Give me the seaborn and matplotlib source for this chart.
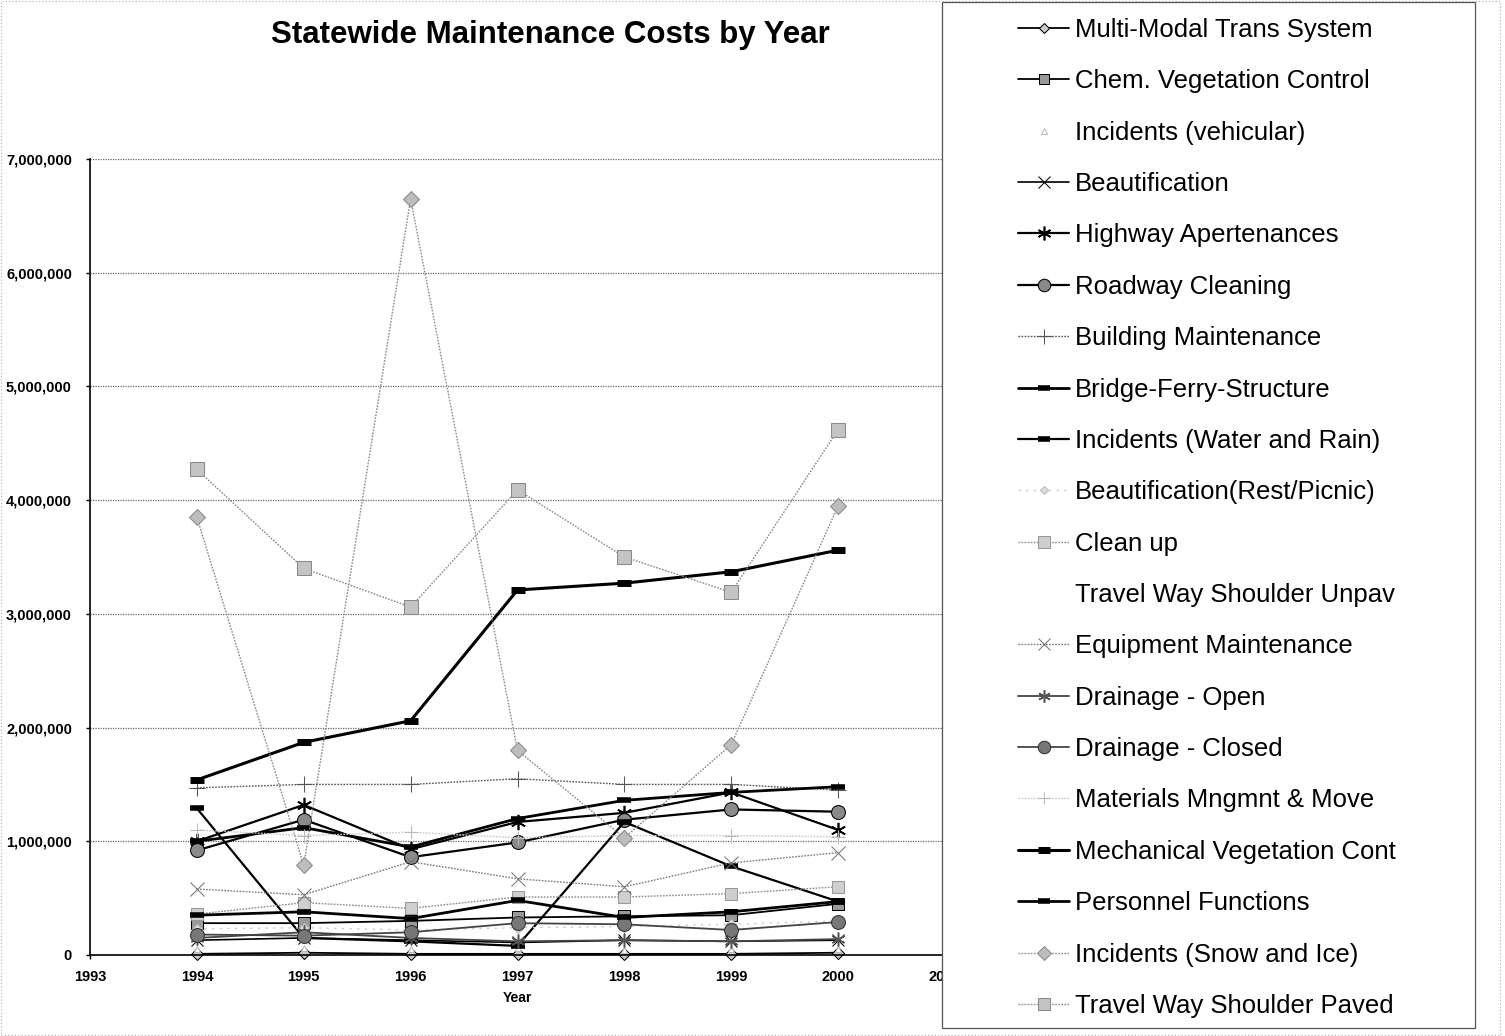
import matplotlib
matplotlib.use("Agg")
import matplotlib.pyplot as plt
from matplotlib.patches import Rectangle
from matplotlib.ticker import FuncFormatter, MultipleLocator
import seaborn as sns

# Years on the x axis
years = [1994, 1995, 1996, 1997, 1998, 1999, 2000]

# Annual statewide maintenance cost per activity (dollars)
multi_modal = [10000, 20000, 10000, 10000, 10000, 10000, 20000]
chem_vegetation = [280000, 280000, 300000, 330000, 340000, 350000, 450000]
incidents_vehicular = [50000, 60000, 50000, 60000, 40000, 50000, 50000]
beautification = [130000, 150000, 130000, 110000, 130000, 120000, 130000]
highway_apertenances = [1000000, 1320000, 930000, 1170000, 1250000, 1430000, 1100000]
roadway_cleaning = [920000, 1190000, 860000, 990000, 1190000, 1280000, 1260000]
building_maintenance = [1470000, 1500000, 1500000, 1550000, 1500000, 1500000, 1450000]
bridge_ferry = [1000000, 1120000, 950000, 1200000, 1360000, 1430000, 1480000]
incidents_water = [1290000, 150000, 120000, 80000, 1170000, 780000, 470000]
beautification_rest = [230000, 240000, 220000, 240000, 250000, 270000, 300000]
clean_up = [360000, 460000, 410000, 510000, 510000, 540000, 600000]
tws_unpaved = [970000, 1030000, 990000, 1000000, 1020000, 1000000, 980000]
equipment_maintenance = [580000, 530000, 820000, 670000, 600000, 810000, 900000]
drainage_open = [150000, 200000, 150000, 120000, 130000, 120000, 140000]
drainage_closed = [180000, 170000, 200000, 280000, 270000, 220000, 290000]
materials = [1100000, 1050000, 1080000, 1030000, 1050000, 1050000, 1040000]
mech_vegetation = [1540000, 1870000, 2060000, 3210000, 3270000, 3370000, 3560000]
personnel = [350000, 380000, 320000, 480000, 330000, 380000, 470000]
snow_ice = [3850000, 790000, 6650000, 1800000, 1030000, 1850000, 3950000]
tws_paved = [4270000, 3400000, 3060000, 4090000, 3500000, 3190000, 4620000]

asterisk = (6, 2, 0)
dotted = (0, (1.2, 1.0))

series = [
    ("Multi-Modal Trans System", multi_modal,
     dict(color="black", lw=1.3, marker="D", ms=6, mfc="#cccccc", mec="black")),
    ("Chem. Vegetation Control", chem_vegetation,
     dict(color="black", lw=1.3, marker="s", ms=8, mfc="#999999", mec="black")),
    ("Incidents (vehicular)", incidents_vehicular,
     dict(color="white", lw=0, marker="^", ms=5, mfc="white", mec="#bbbbbb")),
    ("Beautification", beautification,
     dict(color="black", lw=1.2, marker="x", ms=9, mec="black")),
    ("Highway Apertenances", highway_apertenances,
     dict(color="black", lw=1.6, marker=asterisk, ms=11, mec="black", mew=1.2)),
    ("Roadway Cleaning", roadway_cleaning,
     dict(color="black", lw=1.6, marker="o", ms=10, mfc="#8a8a8a", mec="black")),
    ("Building Maintenance", building_maintenance,
     dict(color="#555555", lw=1.0, ls=dotted, marker="+", ms=12, mec="#555555")),
    ("Bridge-Ferry-Structure", bridge_ferry,
     dict(color="black", lw=2.0, marker="_", ms=10, mew=4, mec="black")),
    ("Incidents (Water and Rain)", incidents_water,
     dict(color="black", lw=1.6, marker="_", ms=10, mew=4, mec="black")),
    ("Beautification(Rest/Picnic)", beautification_rest,
     dict(color="#c8c8c8", lw=1.0, ls=(0, (1.5, 4)), marker="D", ms=5, mfc="#dddddd", mec="#bbbbbb")),
    ("Clean up", clean_up,
     dict(color="#8a8a8a", lw=1.0, ls=dotted, marker="s", ms=9, mfc="#cfcfcf", mec="#999999")),
    ("Travel Way Shoulder Unpav", tws_unpaved,
     dict(color="white", lw=0.0, alpha=0.0)),
    ("Equipment Maintenance", equipment_maintenance,
     dict(color="#7a7a7a", lw=1.0, ls=dotted, marker="x", ms=10, mec="#777777")),
    ("Drainage - Open", drainage_open,
     dict(color="#444444", lw=1.3, marker=asterisk, ms=10, mec="#555555", mew=1.1)),
    ("Drainage - Closed", drainage_closed,
     dict(color="#444444", lw=1.3, marker="o", ms=10, mfc="#777777", mec="#333333")),
    ("Materials Mngmnt & Move", materials,
     dict(color="#c8c8c8", lw=1.0, ls=dotted, marker="+", ms=10, mec="#bbbbbb")),
    ("Mechanical Vegetation Cont", mech_vegetation,
     dict(color="black", lw=2.2, marker="_", ms=10, mew=5, mec="black")),
    ("Personnel Functions", personnel,
     dict(color="black", lw=2.0, marker="_", ms=10, mew=4, mec="black")),
    ("Incidents (Snow and Ice)", snow_ice,
     dict(color="#8a8a8a", lw=1.0, ls=dotted, marker="D", ms=8, mfc="#bdbdbd", mec="#8a8a8a")),
    ("Travel Way Shoulder Paved", tws_paved,
     dict(color="#8a8a8a", lw=1.0, ls=dotted, marker="s", ms=10, mfc="#c4c4c4", mec="#8a8a8a")),
]

sns.set_theme(style="white")
plt.rcParams["font.family"] = ["Liberation Sans", "DejaVu Sans"]

W, H = 1505, 1036
fig = plt.figure(figsize=(W / 100, H / 100), dpi=100)
fig.patch.set_facecolor("white")

left, right, bottom, top = 90, 945, 955, 159
ax = fig.add_axes([left / W, 1 - bottom / H, (right - left) / W, (bottom - top) / H])

for name, values, style in series:
    sns.lineplot(x=years, y=values, ax=ax, label=name, clip_on=False, **style)

handles, labels = ax.get_legend_handles_labels()
if ax.get_legend() is not None:
    ax.get_legend().remove()

ax.set_xlim(1993, 2001)
ax.set_ylim(0, 7000000)
ax.xaxis.set_major_locator(MultipleLocator(1))
ax.yaxis.set_major_locator(MultipleLocator(1000000))
ax.yaxis.set_major_formatter(FuncFormatter(lambda v, p: f"{int(v):,}"))
ax.xaxis.set_major_formatter(FuncFormatter(lambda v, p: f"{int(round(v))}"))

ax.grid(axis="y", color="#666666", lw=0.9, ls=(0, (1, 1)))
ax.grid(axis="x", visible=False)
ax.set_axisbelow(True)
for s in ("top", "right"):
    ax.spines[s].set_visible(False)
for s in ("left", "bottom"):
    ax.spines[s].set_color("black")
    ax.spines[s].set_linewidth(1.2)

ax.tick_params(axis="both", which="major", direction="out", length=3, width=1,
               color="black", labelsize=10.5, labelcolor="black", left=True, bottom=True)
ax.tick_params(axis="y", pad=10)
ax.tick_params(axis="x", pad=8)
for lab in ax.get_xticklabels() + ax.get_yticklabels():
    lab.set_fontweight("bold")
ax.set_xlabel("Year", fontsize=10, fontweight="bold", labelpad=5, color="black")
ax.set_ylabel("")

fig.text(550 / W, 1 - 35 / H, "Statewide Maintenance Costs by Year",
         ha="center", va="center", fontsize=22.5, fontweight="bold", color="black")

# Legend panel
fig.patches.append(Rectangle((942 / W, 1 - 1028 / H), (1475 - 942) / W, (1028 - 2) / H,
                             transform=fig.transFigure, facecolor="white",
                             edgecolor="#555555", lw=0.9, zorder=5))
# Outer chart frame
fig.patches.append(Rectangle((1 / W, 1 / H), (1500 - 1) / W, (H - 2) / H,
                             transform=fig.transFigure, facecolor="none",
                             edgecolor="#aaaaaa", lw=0.8, ls=(0, (1, 2)), zorder=4))

leg = fig.legend(handles, labels, loc="upper left",
                 bbox_to_anchor=(1018 / W, 1 - 18 / H),
                 frameon=False, fontsize=18.5, handlelength=2.0, handletextpad=0.2,
                 labelspacing=1.065, borderpad=0, borderaxespad=0, markerscale=0.9)
leg.set_zorder(6)
for t in leg.get_texts():
    t.set_color("black")

fig.savefig("out.png", dpi=100, facecolor="white")
